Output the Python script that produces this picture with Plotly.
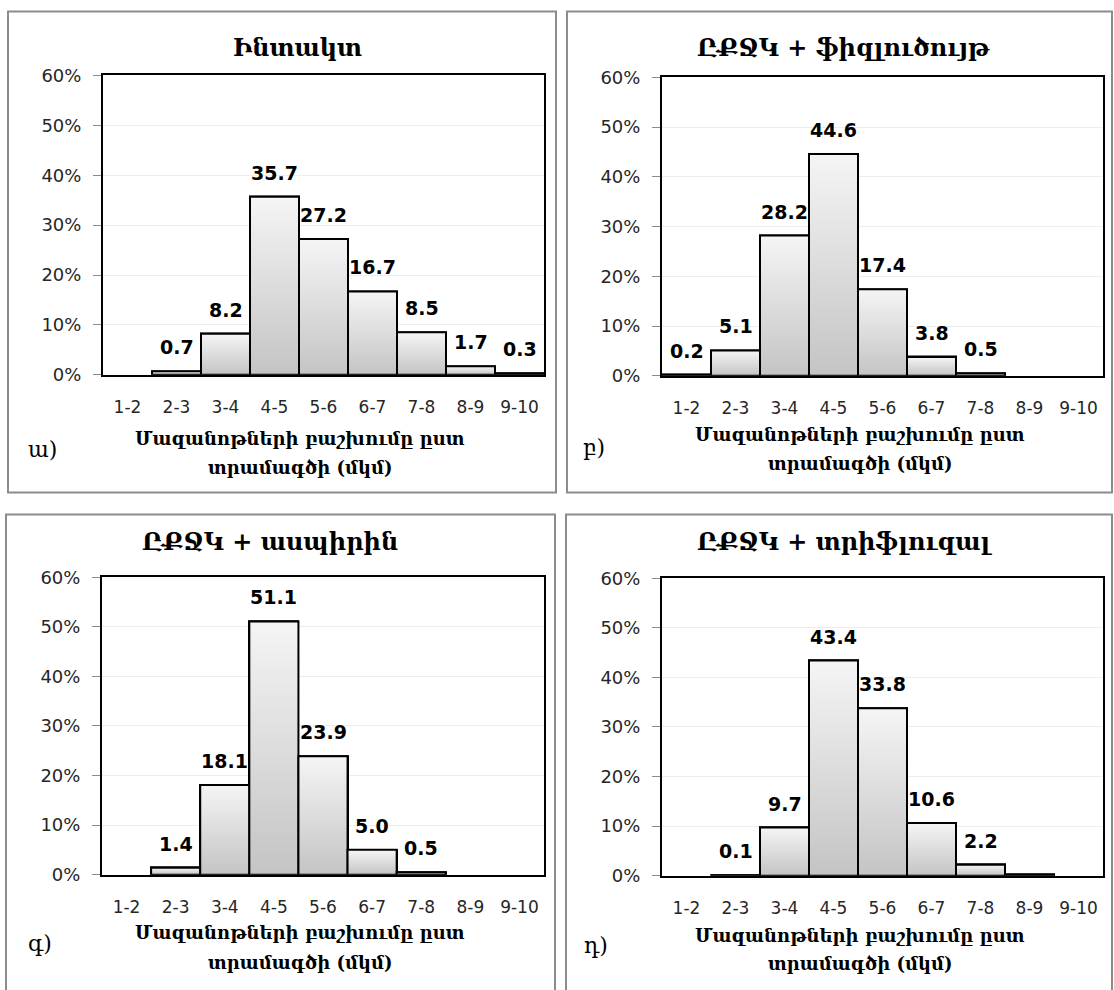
import plotly.graph_objects as go

W, H = 1114, 990

categories = ["1-2", "2-3", "3-4", "4-5", "5-6", "6-7", "7-8", "8-9", "9-10"]

# percent values per panel (None = no bar)
vals_a = [None, 0.7, 8.2, 35.7, 27.2, 16.7, 8.5, 1.7, 0.3]
vals_b = [0.2, 5.1, 28.2, 44.6, 17.4, 3.8, 0.5, None, None]
vals_c = [None, 1.4, 18.1, 51.1, 23.9, 5.0, 0.5, None, None]
vals_d = [None, 0.1, 9.7, 43.4, 33.8, 10.6, 2.2, 0.2, None]
# categories whose bar carries no data label
unlabeled_d = ["8-9"]

titles = ["Ինտակտ", "ԸՔՋԿ + ֆիզլուծույթ", "ԸՔՋԿ + ասպիրին", "ԸՔՋԿ + տրիֆլուզալ"]
letters = ["ա)", "բ)", "գ)", "դ)"]
xtitle_1 = "Մազանոթների բաշխումը ըստ"
xtitle_2 = "տրամագծի (մկմ)"
ytickvals = [0, 0.1, 0.2, 0.3, 0.4, 0.5, 0.6]


def py(v):
    """pixel row (from top) -> paper fraction, compensating the page's vertical offset"""
    return 1 - ((v - 8.4) / 0.981) / H


panels = [
    dict(vals=vals_a, unl=[], plot=(103, 544, 73, 373), box=(8, 9, 556, 491),
         title=(297, 45), xt=(300, 437, 466), letter=(42, 448)),
    dict(vals=vals_b, unl=[], plot=(662, 1103, 75, 374), box=(567, 9, 1112, 491),
         title=(843, 45), xt=(860, 433, 462), letter=(594, 446)),
    dict(vals=vals_c, unl=[], plot=(102, 544, 576, 874), box=(6, 513, 555, 1000),
         title=(270, 540), xt=(300, 932, 962), letter=(40, 943)),
    dict(vals=vals_d, unl=unlabeled_d, plot=(662, 1103, 577, 875), box=(566, 513, 1112, 1000),
         title=(845, 540), xt=(860, 935, 963), letter=(596, 945)),
]

TITLE_FONT = "DejaVu Serif"
NUM_FONT = "DejaVu Sans"
GRADIENT = [[0, "#c4c4c4"], [1, "#f5f5f5"]]
LABEL_SHIFT = 24

fig = go.Figure()
annotations = []
shapes = []
xpos = list(range(len(categories)))

for i, p in enumerate(panels):
    n = "" if i == 0 else str(i + 1)
    l, r, t, b = p["plot"]
    y_frac = [None if v is None else v / 100 for v in p["vals"]]
    fig.add_trace(go.Bar(
        x=xpos, y=y_frac, width=1,
        marker=dict(color="#dadada", line=dict(color="black", width=2)),
        xaxis="x" + n, yaxis="y" + n, showlegend=False, hoverinfo="skip",
    ))
    # gradient face + outline of each bar (same data, same scales)
    for xi, yv in zip(xpos, y_frac):
        if yv is None:
            continue
        fig.add_trace(go.Scatter(
            x=[xi - 0.5, xi - 0.5, xi + 0.5, xi + 0.5, xi - 0.5],
            y=[0, yv, yv, 0, 0], mode="lines", line=dict(width=2, color="black"),
            fill="toself", fillgradient=dict(type="vertical", colorscale=GRADIENT),
            xaxis="x" + n, yaxis="y" + n, showlegend=False, hoverinfo="skip",
            cliponaxis=False,
        ))
    # data labels
    for xi, v, yv, c in zip(xpos, p["vals"], y_frac, categories):
        if v is None or c in p["unl"]:
            continue
        annotations.append(dict(
            text=f"{v:.1f}", x=xi, y=yv, xref="x" + n, yref="y" + n,
            xanchor="center", yanchor="middle", yshift=LABEL_SHIFT, showarrow=False,
            font=dict(family=NUM_FONT, size=19, color="black", weight="bold")))
    fig.layout["xaxis" + n] = dict(
        domain=[l / W, r / W], anchor="y" + n,
        range=[-0.5, 8.5], tickvals=xpos, ticktext=categories,
        showline=True, mirror=True, linecolor="black", linewidth=2,
        ticks="outside", ticklen=16, tickcolor="rgba(0,0,0,0)",
        tickfont=dict(family=NUM_FONT, size=17, color="#262626"),
        showgrid=False, zeroline=False, fixedrange=True,
    )
    fig.layout["yaxis" + n] = dict(
        domain=[py(b), py(t)], anchor="x" + n,
        range=[0, 0.6], tickvals=ytickvals, tickformat=".0%",
        showline=True, mirror=True, linecolor="black", linewidth=2,
        ticks="outside", ticklen=8, tickcolor="#8c8c8c", tickwidth=1,
        ticklabelstandoff=8,
        tickfont=dict(family=NUM_FONT, size=18, color="#262626"),
        showgrid=True, gridcolor="#ededed", gridwidth=1, zeroline=False, fixedrange=True,
    )
    bx0, by0, bx1, by1 = p["box"]
    shapes.append(dict(type="rect", xref="paper", yref="paper",
                       x0=bx0 / W, x1=bx1 / W, y0=py(by1), y1=py(by0),
                       line=dict(color="#8c8c8c", width=2), fillcolor="rgba(0,0,0,0)",
                       layer="below"))
    tx, ty = p["title"]
    annotations.append(dict(text=titles[i], x=tx / W, y=py(ty), xref="paper", yref="paper",
                            xanchor="center", yanchor="middle", showarrow=False,
                            font=dict(family=TITLE_FONT, size=24, color="black", weight="bold")))
    cx, y1, y2 = p["xt"]
    for txt, yy in ((xtitle_1, y1), (xtitle_2, y2)):
        annotations.append(dict(text=txt, x=cx / W, y=py(yy), xref="paper", yref="paper",
                                xanchor="center", yanchor="middle", showarrow=False,
                                font=dict(family=TITLE_FONT, size=18, color="black",
                                          weight="bold")))
    lx, ly = p["letter"]
    annotations.append(dict(text=letters[i], x=lx / W, y=py(ly), xref="paper", yref="paper",
                            xanchor="center", yanchor="middle", showarrow=False,
                            font=dict(family=TITLE_FONT, size=22, color="black")))

fig.update_layout(
    width=W, height=H, margin=dict(l=0, r=0, t=0, b=0),
    paper_bgcolor="white", plot_bgcolor="white",
    bargap=0, annotations=annotations, shapes=shapes,
)

fig.write_html("out.html", config={"displayModeBar": False})
